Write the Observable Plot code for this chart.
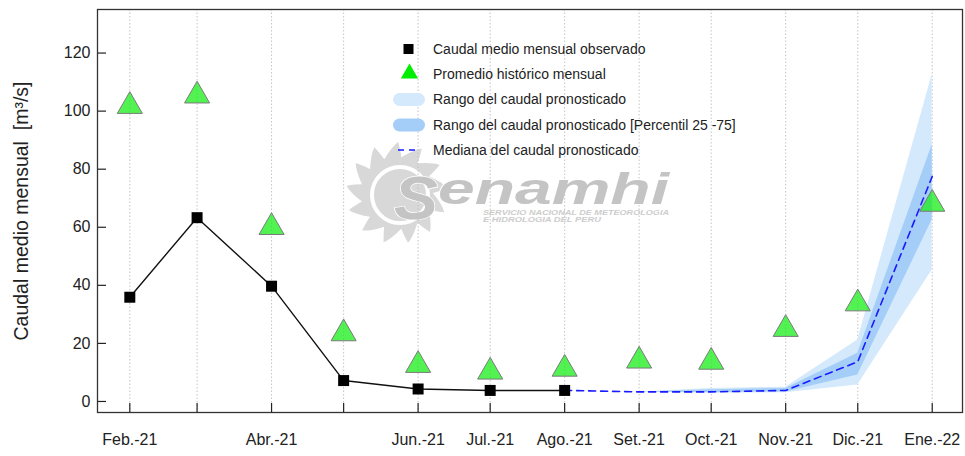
<!DOCTYPE html>
<html><head><meta charset="utf-8">
<script src="https://cdn.jsdelivr.net/npm/d3@7"></script>
<script src="https://cdn.jsdelivr.net/npm/@observablehq/plot@0.6"></script>
<style>
body{margin:0;background:#fff;}
#wrap{position:relative;width:965px;height:456px;overflow:hidden;}
#wrap > svg{position:absolute;left:0;top:0;}
</style></head><body><div id="wrap"></div>
<script>
// ---- data ----
const months = ["2021-02-01","2021-03-01","2021-04-01","2021-05-01","2021-06-01","2021-07-01","2021-08-01","2021-09-01","2021-10-01","2021-11-01","2021-12-01","2022-01-01"];
const tickLabels = ["Feb.-21","","Abr.-21","","Jun.-21","Jul.-21","Ago.-21","Set.-21","Oct.-21","Nov.-21","Dic.-21","Ene.-22"];
const observed = [35.9, 63.3, 39.7, 7.2, 4.3, 3.8, 3.8];
const historical = [101.7, 105.3, 60.0, 23.4, 12.5, 10.2, 11.2, 14.0, 13.6, 24.9, 33.7, 68.0];
const fcMonths = ["2021-08-01","2021-09-01","2021-10-01","2021-11-01","2021-12-01","2022-01-01"];
const fcMedian = [3.8, 3.3, 3.3, 3.8, 13.7, 77.5];
const fcMin    = [3.8, 3.3, 2.8, 3.0, 5.7, 45.3];
const fcMax    = [3.8, 3.3, 4.5, 4.9, 21.2, 112.6];
const fcP25    = [3.8, 3.3, 3.1, 3.3, 9.1, 62.6];
const fcP75    = [3.8, 3.3, 4.0, 4.5, 16.6, 88.4];
const yTicks = [0, 20, 40, 60, 80, 100, 120];
const yTitle = "Caudal medio mensual \u00a0[m\u00b3/s]";
const legendItems = ["Caudal medio mensual observado","Promedio histórico mensual","Rango del caudal pronosticado","Rango del caudal pronosticado [Percentil 25 -75]","Mediana del caudal pronosticado"];

// ---- tables ----
const dates = months.map(d => new Date(d));
const labelMap = new Map(dates.map((d, i) => [+d, tickLabels[i]]));
const obs = observed.map((v, i) => ({date: dates[i], v}));
const hist = historical.map((v, i) => ({date: dates[i], v}));
const fc = fcMonths.map((m, i) => ({date: new Date(m), med: fcMedian[i], lo: fcMin[i], hi: fcMax[i], p25: fcP25[i], p75: fcP75[i]}));

const day = 864e5;
const font = "Liberation Sans, Arial, sans-serif";
const wrap = document.getElementById("wrap");

// ---- watermark (behind) ----
const W = 965, H = 456;
const wm = d3.create("svg").attr("width", W).attr("height", H).style("z-index", 0);
{
  const cx = 397, cy = 193, R = 51, r1 = 36, n = 13;
  const step = 2 * Math.PI / n;
  let p = "";
  for (let i = 0; i < n; i++) {
    const a0 = i * step, a1 = a0 + step, at = a0 + step * 0.8;
    const P = (a, r) => [cx + r * Math.cos(a), cy + r * Math.sin(a)];
    const v0 = P(a0, r1), t = P(at, R), v1 = P(a1, r1), c1 = P(a0 + step * 0.55, R * 0.93), c2 = P(a1 - step * 0.05, R * 0.8);
    p += (i === 0 ? `M${v0}` : "") + `Q${c1} ${t}Q${c2} ${v1}`;
  }
  p += "Z";
  wm.append("path").attr("d", p).attr("fill", "#d8d8d8");
  wm.append("circle").attr("cx", cx + 3).attr("cy", cy + 2).attr("r", 28).attr("fill", "none").attr("stroke", "#fff").attr("stroke-width", 4);
  const t = (x, y, size, fill, str, len) => {
    const e = wm.append("text").attr("x", x).attr("y", y).attr("font-family", font).attr("font-weight", "bold").attr("font-style", "italic")
      .attr("font-size", size).attr("fill", fill).attr("stroke", "#fff").attr("stroke-width", size > 20 ? 1.5 : 0).attr("paint-order", "stroke").text(str);
    if (len) e.attr("textLength", len).attr("lengthAdjust", "spacingAndGlyphs");
    return e;
  };
  t(394, 219, 61, "#c4c4c4", "S", 44);
  t(438, 203.5, 45, "#c4c4c4", "enamhi", 231);
  t(483, 214.5, 8, "#cdcdcd", "SERVICIO NACIONAL DE METEOROLOGIA", 186);
  t(483, 222, 8, "#cdcdcd", "E HIDROLOGIA DEL PERU", 118);
}
wrap.appendChild(wm.node());

// ---- chart ----
const chart = Plot.plot({
  width: W, height: H,
  marginTop: 9, marginBottom: 44, marginLeft: 97, marginRight: 3,
  style: {fontFamily: font, fontSize: "16px", color: "#222", background: "transparent", zIndex: 1},
  x: {type: "utc", domain: [new Date(+dates[0] - 13.45 * day), new Date(+dates[11] + 12.6 * day)]},
  y: {domain: [-3.8, 135]},
  marks: [
    Plot.ruleX(dates, {stroke: "#c4c4c4", strokeDasharray: "1.5,2"}),
    Plot.areaY(fc, {x: "date", y1: "lo", y2: "hi", fill: "#d5e9fc"}),
    Plot.areaY(fc, {x: "date", y1: "p25", y2: "p75", fill: "#a4cef7"}),
    Plot.lineY(fc, {x: "date", y: "med", stroke: "#1a1aff", strokeWidth: 1.6, strokeDasharray: "7,5"}),
    Plot.lineY(obs, {x: "date", y: "v", stroke: "#111", strokeWidth: 1.4}),
    Plot.dot(obs, {x: "date", y: "v", symbol: "square", r: 6.2, fill: "#000", stroke: "none"}),
    Plot.dot(hist, {x: "date", y: "v", symbol: "triangle", r: 9.3, fill: "#1bee1b", fillOpacity: 0.76, stroke: "#7a7a7a", strokeWidth: 1}),
    Plot.ruleX(dates, {insetTop: 394, stroke: "#222", strokeWidth: 1.2}),
    Plot.ruleY(yTicks, {insetRight: 856, stroke: "#222", strokeWidth: 1.2}),
    Plot.axisX(dates, {tickSize: 0, tickPadding: 21, tickFormat: d => labelMap.get(+d), label: null, fontSize: 16}),
    Plot.axisY(yTicks, {tickSize: 0, tickPadding: 7, label: null, fontSize: 16}),
    Plot.frame({stroke: "#333", strokeWidth: 1.3}),
    Plot.text([yTitle], {frameAnchor: "left", textAnchor: "middle", rotate: -90, dx: -76, fontSize: 19.5, fill: "#222"})
  ]
});
wrap.appendChild(chart);

// ---- legend (on top) ----
const lg = d3.create("svg").attr("width", W).attr("height", H).style("z-index", 2).style("pointer-events", "none");
const rowY = [49, 74, 99.5, 125, 150];
lg.append("rect").attr("x", 403.5).attr("y", rowY[0] - 5).attr("width", 10).attr("height", 10).attr("fill", "#000");
lg.append("path").attr("d", d3.symbol(d3.symbolTriangle, 130)()).attr("transform", `translate(409.5,${rowY[1] - 0.5})`).attr("fill", "#00ee00");
lg.append("rect").attr("x", 393).attr("y", rowY[2] - 6.5).attr("width", 32).attr("height", 13).attr("rx", 6.5).attr("fill", "#d5e9fc");
lg.append("rect").attr("x", 393).attr("y", rowY[3] - 6.5).attr("width", 32).attr("height", 13).attr("rx", 6.5).attr("fill", "#a4cef7");
lg.append("line").attr("x1", 398).attr("x2", 416).attr("y1", rowY[4]).attr("y2", rowY[4]).attr("stroke", "#1a1aff").attr("stroke-width", 1.6).attr("stroke-dasharray", "6,5");
legendItems.forEach((t, i) => {
  lg.append("text").attr("x", 433).attr("y", rowY[i]).attr("dy", "0.35em").attr("font-family", font).attr("font-size", 14).attr("fill", "#222").text(t);
});
wrap.appendChild(lg.node());
</script>
</body></html>
